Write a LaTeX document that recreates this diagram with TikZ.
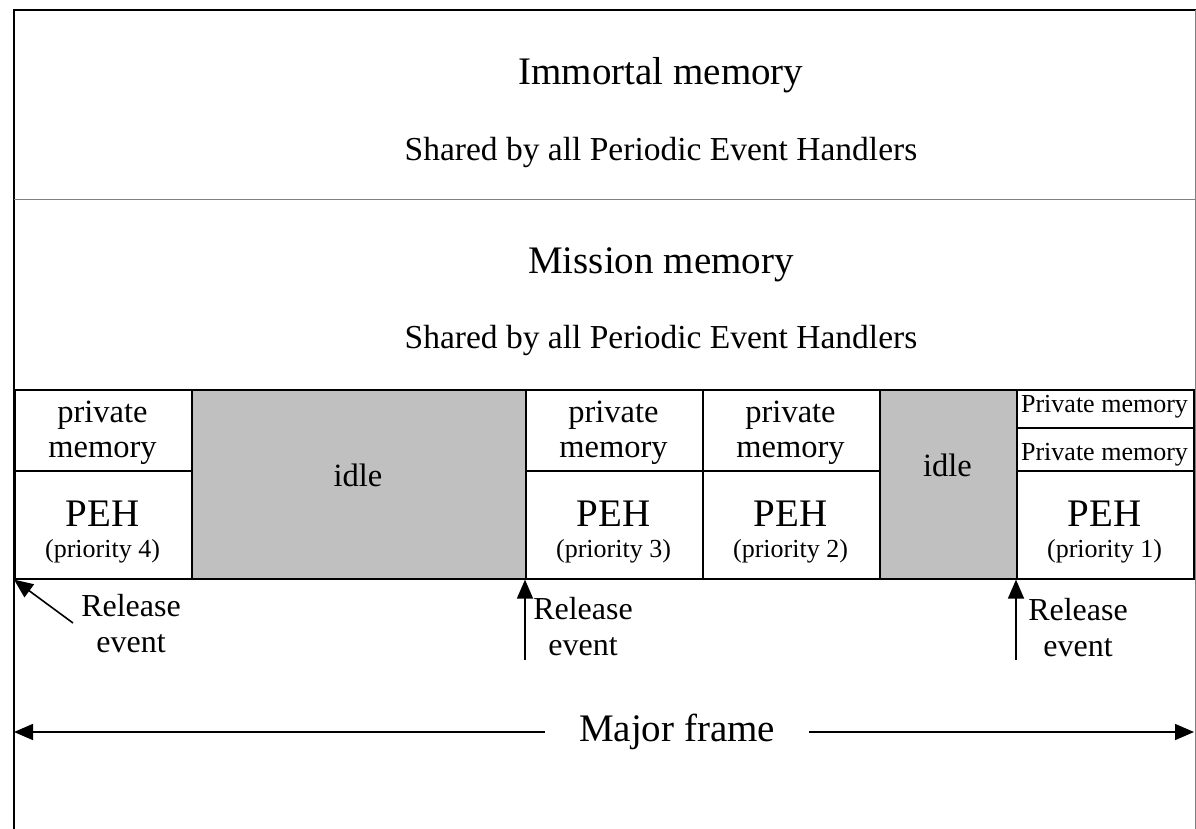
\documentclass[tikz,border=0pt]{standalone}
\usepackage{fontspec}
\setmainfont{Liberation Serif}
\usetikzlibrary{arrows.meta}
\definecolor{idlegray}{RGB}{192,192,192}
\begin{document}
\begin{tikzpicture}[x=1pt,y=-1pt,
  frameline/.style={line width=1.6pt},
  cell/.style={draw, line width=1.6pt, inner sep=0pt, anchor=north west},
  idlecell/.style={cell, fill=idlegray},
  txt/.style={inner sep=0pt, align=center},
  fbig/.style={font=\fontsize{39}{44}\selectfont},
  fshared/.style={font=\fontsize{33.5}{38}\selectfont},
  fpriv/.style={font=\fontsize{32.5}{35}\selectfont},
  fpeh/.style={font=\fontsize{39}{44}\selectfont},
  fprio/.style={font=\fontsize{26}{30}\selectfont},
  fsmall/.style={font=\fontsize{26}{30}\selectfont},
  frel/.style={font=\fontsize{32}{36}\selectfont},
  arr/.style={line width=1.6pt, -{Triangle[width=16pt,length=19pt]}},
]
\useasboundingbox (0,0) rectangle (1196,829);
% outer frame
\coordinate (tl) at (14,10);
\coordinate (tr) at (1196,10);
\coordinate (bl) at (14,829);
\coordinate (sl) at (14,199);
\coordinate (sr) at (1195,199);
\coordinate (rt) at (1195,10);
\coordinate (rb) at (1195,829);
\draw[frameline] (bl) -- (tl) -- (tr);
\draw[line width=0.8pt, gray] (sl) -- (sr);
\draw[line width=0.8pt, gray] (rt) -- (rb);

% shared memory texts
\node[txt, fbig] (imm) at (661,75) {Immortal memory};
\node[txt, fshared] (imms) at (661,152) {Shared by all Periodic Event Handlers};
\node[txt, fbig] (mis) at (661,265) {Mission memory};
\node[txt, fshared] (miss) at (661,340) {Shared by all Periodic Event Handlers};

% row of cells
\node[cell, minimum width=177pt, minimum height=81pt] (pm4) at (14,389) {};
\node[cell, minimum width=177pt, minimum height=108pt] (peh4) at (14,470) {};
\node[idlecell, minimum width=334pt, minimum height=189pt] (idle1) at (191,389) {};
\node[cell, minimum width=177pt, minimum height=81pt] (pm3) at (525,389) {};
\node[cell, minimum width=177pt, minimum height=108pt] (peh3) at (525,470) {};
\node[cell, minimum width=177pt, minimum height=81pt] (pm2) at (702,389) {};
\node[cell, minimum width=177pt, minimum height=108pt] (peh2) at (702,470) {};
\node[idlecell, minimum width=137pt, minimum height=189pt] (idle2) at (879,389) {};
\node[cell, minimum width=177pt, minimum height=38pt] (pm1a) at (1016,389) {};
\node[cell, minimum width=177pt, minimum height=43pt] (pm1b) at (1016,427) {};
\node[cell, minimum width=177pt, minimum height=108pt] (peh1) at (1016,470) {};

% cell texts
\node[txt, fpriv] (pm4t) at (102.5,433) {private\\memory};
\node[txt, fpriv] (pm3t) at (613.5,433) {private\\memory};
\node[txt, fpriv] (pm2t) at (790.5,433) {private\\memory};
\node[txt, fpriv] (idle1t) at (358,475) {idle};
\node[txt, fpriv] (idle2t) at (947.5,465) {idle};
\node[txt, fsmall] (pm1at) at (1104.5,407) {Private memory};
\node[txt, fsmall] (pm1bt) at (1104.5,455) {Private memory};

\node[txt, fpeh] (peh4a) at (102.5,514) {PEH};
\node[txt, fprio] (peh4b) at (102.5,551) {(priority 4)};
\node[txt, fpeh] (peh3a) at (613.5,514) {PEH};
\node[txt, fprio] (peh3b) at (613.5,551) {(priority 3)};
\node[txt, fpeh] (peh2a) at (790.5,514) {PEH};
\node[txt, fprio] (peh2b) at (790.5,551) {(priority 2)};
\node[txt, fpeh] (peh1a) at (1104.5,514) {PEH};
\node[txt, fprio] (peh1b) at (1104.5,551) {(priority 1)};

% release events
\coordinate (r4) at (73,623);
\coordinate (r3) at (525,660);
\coordinate (r1) at (1016,660);
\draw[arr] (r4) -- (peh4.south west);
\draw[arr] (r3) -- (peh3.south west);
\draw[arr] (r1) -- (peh1.south west);
\node[txt, frel] (rel4) at (131,624) {Release\\event};
\node[txt, frel] (rel3) at (583,627) {Release\\event};
\node[txt, frel] (rel1) at (1078,628) {Release\\event};

% major frame
\node[txt, fbig, inner xsep=34pt] (mf) at (677,732) {Major frame};
\coordinate (mfl) at (14,732);
\coordinate (mfr) at (1194,732);
\draw[arr] (mf.west) -- (mfl);
\draw[arr] (mf.east) -- (mfr);
\end{tikzpicture}
\end{document}
